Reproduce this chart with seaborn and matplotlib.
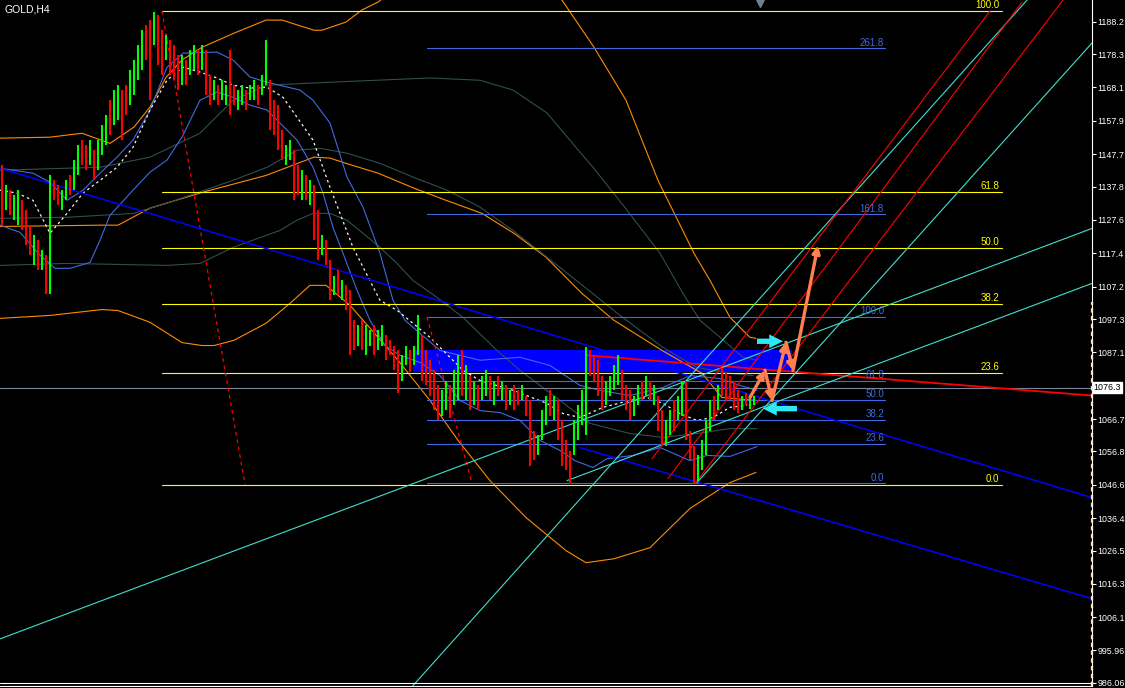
import numpy as np
import pandas as pd
import seaborn as sns
import matplotlib
matplotlib.use("Agg")
import matplotlib.pyplot as plt

# ---------------- price bars (H4, bar index 0..188) ----------------
highs = [
    1144.3, 1138.2, 1136.7, 1135.1, 1136.7, 1133.6, 1130.6, 1126.0, 1122.9, 1121.4,
    1118.3, 1116.8, 1141.2, 1139.7, 1138.2, 1136.7, 1139.7, 1141.2, 1145.9, 1150.4,
    1152.0, 1150.4, 1152.0, 1148.9, 1152.0, 1156.6, 1159.6, 1164.2, 1167.3, 1168.8,
    1167.3, 1168.8, 1173.4, 1176.5, 1181.0, 1185.6, 1187.2, 1188.7, 1191.1, 1190.2,
    1185.6, 1184.1, 1182.6, 1181.0, 1178.0, 1178.0, 1176.5, 1179.5, 1181.0, 1179.5,
    1181.0, 1179.5, 1171.9, 1170.3, 1168.8, 1170.3, 1168.8, 1179.5, 1168.8, 1167.3,
    1168.8, 1167.3, 1168.8, 1170.3, 1168.8, 1171.9, 1182.6, 1170.3, 1164.2, 1162.7,
    1155.0, 1150.4, 1152.0, 1148.9, 1144.3, 1142.8, 1141.2, 1139.7, 1138.2, 1130.6,
    1122.9, 1121.4, 1115.3, 1110.6, 1112.2, 1109.1, 1107.6, 1106.1, 1096.9, 1095.4,
    1096.9, 1095.4, 1093.8, 1095.4, 1093.8, 1095.4, 1092.3, 1090.8, 1089.2, 1087.7,
    1086.2, 1089.2, 1087.7, 1089.2, 1098.4, 1092.3, 1087.7, 1084.7, 1081.6, 1077.0,
    1075.5, 1078.5, 1077.0, 1081.6, 1086.2, 1087.7, 1083.1, 1080.0, 1078.5, 1077.0,
    1080.0, 1081.6, 1080.0, 1078.5, 1080.0, 1078.5, 1077.0, 1075.5, 1077.0, 1075.5,
    1077.0, 1073.9, 1072.4, 1063.2, 1061.7, 1069.4, 1073.9, 1075.5, 1073.9, 1072.4,
    1066.3, 1060.2, 1057.1, 1066.3, 1070.9, 1075.5, 1088.6, 1087.7, 1086.2, 1084.7,
    1080.0, 1078.5, 1080.0, 1083.1, 1086.2, 1081.6, 1077.0, 1075.5, 1073.9, 1077.0,
    1078.5, 1080.0, 1078.5, 1077.0, 1073.9, 1069.4, 1066.3, 1069.4, 1072.4, 1073.9,
    1078.5, 1078.5, 1063.2, 1058.6, 1055.6, 1060.2, 1066.3, 1072.4, 1073.9, 1077.0,
    1082.2, 1080.9, 1080.0, 1078.5, 1075.5, 1073.9, 1074.8, 1073.9, 1073.9]
lows = [
    1126.0, 1130.5, 1129.0, 1127.5, 1126.0, 1124.4, 1119.8, 1116.8, 1113.7, 1112.2,
    1112.2, 1105.1, 1105.1, 1133.6, 1132.1, 1130.6, 1133.6, 1135.2, 1136.7, 1141.2,
    1144.3, 1142.8, 1144.3, 1139.7, 1142.8, 1147.4, 1150.4, 1153.5, 1156.6, 1158.1,
    1152.0, 1159.6, 1162.7, 1165.8, 1170.3, 1173.4, 1176.5, 1164.2, 1181.0, 1174.9,
    1171.9, 1176.5, 1171.9, 1170.3, 1167.3, 1168.8, 1168.8, 1171.9, 1173.4, 1171.9,
    1173.4, 1165.8, 1162.7, 1164.2, 1162.7, 1164.2, 1162.7, 1159.6, 1162.7, 1161.2,
    1162.7, 1161.2, 1164.2, 1164.2, 1162.7, 1165.8, 1168.8, 1155.0, 1153.5, 1148.9,
    1145.9, 1144.3, 1145.9, 1133.6, 1135.2, 1133.6, 1133.6, 1132.1, 1121.4, 1115.3,
    1116.8, 1113.7, 1103.0, 1104.5, 1104.5, 1103.0, 1100.0, 1086.2, 1087.7, 1089.2,
    1087.7, 1086.2, 1089.2, 1086.2, 1087.7, 1089.2, 1084.7, 1086.2, 1081.6, 1074.8,
    1078.5, 1083.1, 1081.0, 1083.1, 1086.2, 1078.5, 1077.0, 1073.9, 1069.4, 1066.3,
    1067.8, 1069.4, 1066.9, 1070.9, 1072.4, 1073.9, 1072.4, 1069.4, 1070.9, 1069.4,
    1072.4, 1073.9, 1072.4, 1070.9, 1073.9, 1072.4, 1069.4, 1070.9, 1069.4, 1070.9,
    1072.4, 1067.8, 1052.5, 1054.1, 1055.6, 1060.2, 1064.8, 1067.8, 1066.3, 1060.2,
    1052.5, 1051.0, 1047.0, 1055.6, 1060.2, 1064.8, 1061.7, 1080.0, 1078.5, 1073.9,
    1069.4, 1070.9, 1073.9, 1075.5, 1077.0, 1072.4, 1069.4, 1066.3, 1067.8, 1070.9,
    1072.4, 1073.9, 1072.4, 1070.9, 1063.2, 1058.6, 1058.6, 1061.7, 1063.2, 1066.3,
    1067.8, 1060.2, 1054.1, 1047.0, 1047.9, 1051.0, 1055.6, 1063.2, 1066.3, 1069.4,
    1073.9, 1072.4, 1072.4, 1069.4, 1068.7, 1069.4, 1070.9, 1069.9, 1070.9]
# g = up bar, r = down bar
direction = ("rgrggrrrgr" "grgrrggrgg" "rrgrgggrgg" "rrggggrrgr" "rgrrrgrggr"
             "grrgrggrrg" "grggrggrrr" "rggrrgrgrr" "grrgrgrrrg" "rggrggrrrr"
             "ggrggrrrrr" "ggrggrgrgr" "ggrgrgrgrr" "grrrgggrgr" "rrrggggrrr"
             "rggggrrrgg" "rgrgrrggrg" "grrrggggrg" "rrrrrgrgg")

# ---------------- indicators (bar, price) ----------------
bb_up_x = [-0.5, 7.75, 12, 16.25, 20.25, 24.5, 28.75, 32.75, 37, 41.25, 45.25, 53.75, 57.75,
           62, 66.25, 74.5, 77.75, 82, 86.25, 90.25, 94.5, 97.75, 100.75, 104.5, 109.5,
           119.5, 129.5, 137, 144.5, 149.5, 157, 165.25, 172, 179.5, 184.5, 188.75]
bb_up_y = [1143.4, 1141.9, 1139.1, 1133.6, 1136.7, 1141.9, 1146.8, 1152.0, 1161.2, 1174.3,
           1178.6, 1178.9, 1176.5, 1171.3, 1169.7, 1167.3, 1164.2, 1157.2, 1140.7, 1131.5,
           1117.4, 1103.0, 1096.9, 1092.9, 1087.7, 1084.7, 1085.6, 1083.1, 1077.0, 1075.5,
           1073.9, 1076.4, 1080.0, 1079.1, 1077.0, 1075.5]
bb_lo_x = [-0.5, 4.5, 9.5, 13.25, 17, 22, 24.5, 27, 32.75, 37, 41.25, 45.25, 49.5, 53.75,
           57.75, 62, 66.25, 69.5, 73.75, 77.75, 80.25, 82.75, 85.25, 88.75, 92, 95.75,
           99.5, 104.5, 109.5, 114.5, 119.5, 124.5, 129.5, 134.5, 139.5, 143.25, 147.75,
           151.25, 157.75, 164.5, 172, 176.25, 182, 188.75]
bb_lo_y = [1126.0, 1123.8, 1116.8, 1112.8, 1112.8, 1114.6, 1121.4, 1129.0, 1136.7, 1142.2,
           1145.9, 1153.5, 1164.2, 1166.7, 1165.1, 1162.7, 1161.2, 1157.2, 1152.0, 1143.7,
           1135.8, 1125.3, 1117.4, 1106.1, 1096.9, 1089.2, 1086.2, 1084.0, 1080.0, 1072.4,
           1069.3, 1068.7, 1066.3, 1060.2, 1057.1, 1054.0, 1051.9, 1054.6, 1055.6, 1058.0,
           1054.0, 1055.6, 1055.3, 1058.3]
ma_x = [-0.5, 3.75, 7.75, 12, 16.25, 20.25, 24.5, 28.75, 32.75, 37, 41.25, 45.25, 49.5,
        53.75, 57.75, 62, 66.25, 70.25, 77.75, 82, 87.75, 94.5, 98.75, 107, 115.25, 119.5,
        127.75, 136.25, 140.25, 144.5, 150.25, 157, 161.25, 165.25, 169.5, 173.75, 177.75,
        182, 186.25]
ma_y = [1136.7, 1135.8, 1133.6, 1123.5, 1129.6, 1135.8, 1139.7, 1143.7, 1149.8, 1161.2,
        1170.3, 1174.3, 1172.8, 1171.0, 1168.8, 1167.9, 1168.2, 1165.1, 1152.0, 1137.6,
        1119.2, 1103.0, 1100.0, 1091.7, 1081.6, 1078.5, 1075.5, 1071.5, 1068.4, 1067.2,
        1070.3, 1072.4, 1073.3, 1071.5, 1068.4, 1066.3, 1067.2, 1070.3, 1070.9]
gr_up_x = [-0.5, 24.5, 37, 49.5, 57.75, 66.25, 82, 107, 119.5, 127.75, 136.25, 144.5,
           147.75, 156.25, 164.5, 170.25, 174.5, 179.5, 185.25, 188.75]
gr_up_y = [1142.8, 1143.7, 1146.8, 1154.1, 1164.2, 1168.8, 1169.7, 1171.0, 1170.3, 1167.3,
           1160.3, 1148.3, 1143.7, 1130.6, 1117.4, 1105.1, 1096.9, 1091.7, 1085.6, 1084.7]
gr_mid_x = [-0.5, 16.25, 32.75, 41.25, 57.75, 66.25, 73.75, 79.5, 86.25, 94.5, 102.75,
            111.25, 119.5, 127.75, 136.25, 144.5, 154.5, 165.25, 173.75, 182, 187.75]
gr_mid_y = [1128.1, 1128.4, 1129.6, 1132.7, 1139.7, 1143.7, 1148.9, 1149.5, 1148.0, 1144.9,
            1140.7, 1136.7, 1131.5, 1124.4, 1116.2, 1108.2, 1098.4, 1088.6, 1082.5, 1080.7,
            1080.0]
gr_lo_x = [-0.5, 16.25, 41.25, 49.5, 57.75, 69.5, 73.75, 77.75, 82, 86.25, 90.25, 94.5,
           98.75, 102.75, 108.75, 115.25, 123.75, 129.5, 139.5, 147, 157, 165.25, 173.75,
           182, 188.75]
gr_lo_y = [1113.7, 1114.3, 1113.7, 1114.3, 1119.2, 1124.4, 1127.5, 1129.6, 1129.6, 1127.5,
           1123.5, 1119.2, 1114.3, 1109.1, 1103.9, 1097.8, 1087.7, 1081.6, 1072.4, 1065.4,
           1062.3, 1061.1, 1062.3, 1063.8, 1063.8]
or_up_x = [-0.5, 12, 20, 27, 33, 37, 41, 45, 50, 58, 66, 70, 78, 80, 86, 90, 94, 98, 115,
           137, 140, 148, 156, 164, 173, 177, 182, 187, 188.5]
or_up_y = [1152.6, 1152.9, 1154.1, 1151.0, 1156.0, 1162.1, 1171.2, 1176.5, 1180.4, 1184.7,
           1188.7, 1188.7, 1185.6, 1185.6, 1188.1, 1191.8, 1194.2, 1197.9, 1212.0, 1197.9,
           1194.8, 1180.4, 1164.2, 1139.7, 1117.4, 1109.1, 1097.8, 1091.7, 1091.4]
or_mid_x = [-0.5, 25, 29, 37, 50, 66, 78, 82, 86, 94, 103, 111, 120, 128, 136, 145, 153,
            165, 175, 180, 188.5]
or_mid_y = [1125.6, 1126.0, 1126.0, 1131.2, 1136.0, 1141.2, 1146.8, 1146.5, 1144.9, 1141.9,
            1137.3, 1133.6, 1129.6, 1123.5, 1116.2, 1105.1, 1096.9, 1087.7, 1080.7, 1073.3,
            1072.4]
or_lo_x = [-0.5, 12, 25, 29, 37, 45, 50, 53, 58, 66, 72, 77, 81, 87, 99, 107, 114, 122, 131,
           141, 146, 153, 162, 172, 182, 188.5]
or_lo_y = [1097.5, 1098.4, 1100.2, 1099.9, 1096.3, 1090.1, 1089.2, 1089.2, 1090.8, 1096.0,
           1102.1, 1107.6, 1107.6, 1101.5, 1084.7, 1072.4, 1060.2, 1047.9, 1036.6, 1026.5,
           1022.8, 1024.0, 1027.4, 1039.4, 1047.3, 1050.4]

# ---------------- drawn objects ----------------
fib_lo, fib_hi = 1046.7, 1191.5
fib_bars = [40, 250]
fib_levels = [0.0, 23.6, 38.2, 50.0, 61.8, 100.0]
fib2_lo, fib2_hi = 1047.1, 1097.9
fib2_bars = [106.25, 220.75]
fib2_levels = [0.0, 23.6, 38.2, 50.0, 61.8, 100.0, 161.8, 261.8]

# trendlines: (bar0, bar1), (price0, price1), colour, width
trend_lines = {
    "chan_top": ([-0.5, 272.5], [1143.4, 1042.7], "#0000FF", 1.1),
    "chan_bot": ([144.5, 272.5], [1058.0, 1011.8], "#0000FF", 1.1),
    "res": ([146.25, 272.5], [1086.2, 1073.9], "#FF0000", 1.3),
    "cy1": ([-0.5, 272.5], [999.5, 1125.0], "#40E0D0", 0.8),
    "cy2": ([141.25, 272.5], [1047.9, 1108.2], "#40E0D0", 0.8),
    "cy3": ([102, 256.25], [984.2, 1194.8], "#40E0D0", 0.8),
    "cy4": ([173.75, 272.5], [1047.3, 1181.7], "#40E0D0", 0.8),
    "rd1": ([162.5, 247], [1054.6, 1191.5], "#FF0000", 0.8),
    "rd2": ([166.5, 255], [1048.5, 1194.2], "#FF0000", 0.8),
    "rd3": ([173.25, 265.25], [1047.0, 1194.8], "#FF0000", 0.8),
}
fib_diag = ([40, 60.75], [1191.5, 1046.7])
fib2_diag = ([106.25, 117.5], [1097.9, 1047.1])

zone_bars = [102.75, 197.5]
zone_lo, zone_hi = 1081.1, 1087.9

path_x = [187, 190.75, 192.5, 196, 197.75, 204]
path_y = [1073.3, 1081.6, 1072.4, 1090.2, 1081.6, 1119.8]
cyan_arrows = [((188.75, 1090.5), (195.25, 1090.5)), ((198.75, 1069.9), (190.25, 1069.9))]

bid = 1076.3
tick_vals = [1188.2, 1178.3, 1168.1, 1157.9, 1147.7, 1137.8, 1127.6, 1117.4, 1107.2,
             1097.3, 1087.1, 1066.7, 1056.8, 1046.6, 1036.4, 1026.5, 1016.3, 1006.1,
             995.96, 986.06]
tick_text = ["1188.2", "1178.3", "1168.1", "1157.9", "1147.7", "1137.8", "1127.6", "1117.4",
             "1107.2", "1097.3", "1087.1", "1066.7", "1056.8", "1046.6", "1036.4", "1026.5",
             "1016.3", "1006.1", "995.96", "986.06"]

# ---------------- plot ----------------
sns.set_style("dark", {"axes.facecolor": "black", "figure.facecolor": "black"})
plt.rcParams['font.family'] = ['Liberation Sans', 'DejaVu Sans']

fig = plt.figure(figsize=(11.25, 6.88), dpi=100)
ax = fig.add_axes([0, 2 / 688, 1092 / 1125, 686 / 688])
ax.set_facecolor("black")
ax.set_xlim(-0.5, 272.5)
ax.set_ylim(985.1, 1194.84)

# zone
ax.fill_between(zone_bars, zone_lo, zone_hi, color="#0000FF", lw=0, zorder=1)

# indicator curves
curves = [
    (or_up_x, or_up_y, "#FF8C00"), (or_mid_x, or_mid_y, "#FF8C00"), (or_lo_x, or_lo_y, "#FF8C00"),
    (gr_up_x, gr_up_y, "#2F4F4F"), (gr_mid_x, gr_mid_y, "#2F4F4F"), (gr_lo_x, gr_lo_y, "#2F4F4F"),
    (bb_up_x, bb_up_y, "#4169E1"), (bb_lo_x, bb_lo_y, "#4169E1"),
]
for cx, cy, col in curves:
    sns.lineplot(x=cx, y=cy, ax=ax, color=col, lw=0.8, estimator=None, sort=False, zorder=2)
sns.lineplot(x=ma_x, y=ma_y, ax=ax, color="#FFF5E6", lw=0.9, linestyle=(0, (2, 2.5)),
             estimator=None, sort=False, zorder=2)

# fibonacci levels
for lv in fib_levels:
    p = fib_lo + (fib_hi - fib_lo) * lv / 100
    ax.plot(fib_bars, [p, p], color="#FFFF00", lw=0.8, zorder=2.5)
    ax.annotate(f"{lv:.1f}", (fib_bars[1] - 0.75, p), xytext=(0, 0.5), textcoords="offset points",
                ha="right", va="bottom", color="#FFFF00", fontsize=7)
for lv in fib2_levels:
    p = fib2_lo + (fib2_hi - fib2_lo) * lv / 100
    ax.plot(fib2_bars, [p, p], color="#4169E1", lw=0.8, zorder=2.5)
    ax.annotate(f"{lv:.1f}", (fib2_bars[1] - 0.25, p), xytext=(0, 0.5), textcoords="offset points",
                ha="right", va="bottom", color="#4169E1", fontsize=7)
ax.plot(*fib_diag, color="#FF0000", lw=0.9, ls=(0, (3, 3)), zorder=2.5)
ax.plot(*fib2_diag, color="#FF0000", lw=0.9, ls=(0, (3, 3)), zorder=2.5)

for bx, py, col, w in trend_lines.values():
    ax.plot(bx, py, color=col, lw=w, zorder=2.6)

ax.axhline(bid, color="#778899", lw=0.8, zorder=2.4)

# bars
bar_idx = np.arange(len(highs))
bar_col = ["#00FF00" if d == "g" else "#FF0000" for d in direction]
ax.vlines(bar_idx, lows, highs, colors=bar_col, lw=1.5, zorder=3)

# forecast path
for i in range(len(path_x) - 1):
    ax.annotate("", xy=(path_x[i + 1], path_y[i + 1]), xytext=(path_x[i], path_y[i]),
                arrowprops=dict(arrowstyle="-|>", color="#FF7F50", lw=2.4,
                                mutation_scale=11, shrinkA=0, shrinkB=0), zorder=5)
for a, b in cyan_arrows:
    ax.annotate("", xy=b, xytext=a,
                arrowprops=dict(arrowstyle="simple,head_length=0.9,head_width=0.9,tail_width=0.35",
                                color="#2EE8F5", lw=0, mutation_scale=11, shrinkA=0, shrinkB=0),
                zorder=5)

# axes styling
ax.set_xticks([])
ax.yaxis.tick_right()
ax.set_yticks(tick_vals)
ax.set_yticklabels(tick_text)
ax.tick_params(axis="y", colors="white", length=3, width=0.8, direction="out", pad=1,
               labelsize=6.4)
for s in ["left", "top"]:
    ax.spines[s].set_visible(False)
for s in ["right", "bottom"]:
    ax.spines[s].set_visible(True)
    ax.spines[s].set_color("white")
    ax.spines[s].set_linewidth(0.8)
ax.axhline(985.1 + 0.85, color="white", lw=0.8, zorder=6)
ax.axvline(272.5, ymin=0, ymax=0.56, color="#FFE4C4", lw=1.6, ls=(0, (2, 1.5)),
           clip_on=False, zorder=6)

ax.annotate("1076.3", xy=(1.0, bid), xycoords=("axes fraction", "data"), xytext=(1.2, 0),
            textcoords="offset points", ha="left", va="center", color="black", fontsize=6.4,
            bbox=dict(boxstyle="square,pad=0.12", fc="white", ec="white"), annotation_clip=False)
ax.plot([189.5], [1194.0], marker="v", color="#708090", ms=6, clip_on=False, zorder=6)
ax.text(0.004, 0.993, "GOLD,H4", transform=ax.transAxes, color="white", fontsize=7.5,
        ha="left", va="top")

ax.set_xlabel("")
ax.set_ylabel("")
fig.savefig("out.png", dpi=100, facecolor="black")
